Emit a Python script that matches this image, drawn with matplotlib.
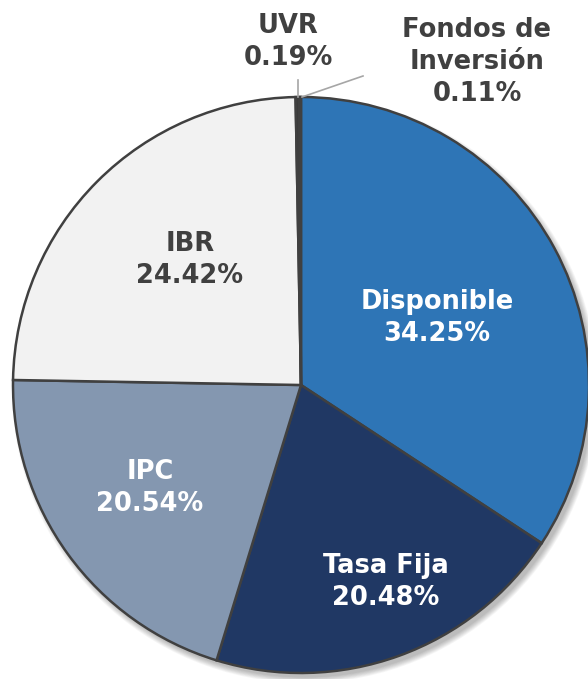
import matplotlib.pyplot as plt
from matplotlib.patches import Circle

# Datos
categorias = ['Disponible', 'Tasa Fija', 'IPC', 'IBR', 'UVR', 'Fondos de\nInversión']
valores = [34.25, 20.48, 20.54, 24.42, 0.19, 0.11]
colores = ['#2E75B6', '#203864', '#8497B0', '#F2F2F2', '#3A3A3A', '#595959']
texto_color = ['white', 'white', 'white', '#404040', '#404040', '#404040']

fig = plt.figure(figsize=(5.88, 6.79), dpi=100)
ax = fig.add_axes([0, 0, 1, 1])

cx, cy, r = 301, 679 - 385, 288

# sombra suave
for i in range(8):
    ax.add_patch(Circle((cx + 4, cy - 5), r + 5 - i * 0.8, color='black',
                        alpha=0.035, lw=0, zorder=0))

ax.pie(valores, colors=colores, startangle=90, counterclock=False,
       center=(cx, cy), radius=r, frame=True,
       wedgeprops={'edgecolor': '#404040', 'linewidth': 1.8})
ax.set_xlim(0, 588)
ax.set_ylim(0, 679)
ax.axis('off')

# etiquetas
posiciones = [(437, 318), (386, 582), (150, 488), (190, 260), (288, 42), (477, 62)]
for i, (cat, val) in enumerate(zip(categorias, valores)):
    x, y = posiciones[i]
    ax.text(x, 679 - y, f'{cat}\n{val:.2f}%', ha='center', va='center',
            fontsize=18.5, fontweight='bold', color=texto_color[i],
            linespacing=1.3)

# líneas guía
ax.plot([298, 298], [679 - 80, 679 - 97], color='#A6A6A6', lw=1.2)
ax.plot([302, 363], [679 - 97, 679 - 76], color='#A6A6A6', lw=1.2)

plt.savefig('out.png', dpi=100)
